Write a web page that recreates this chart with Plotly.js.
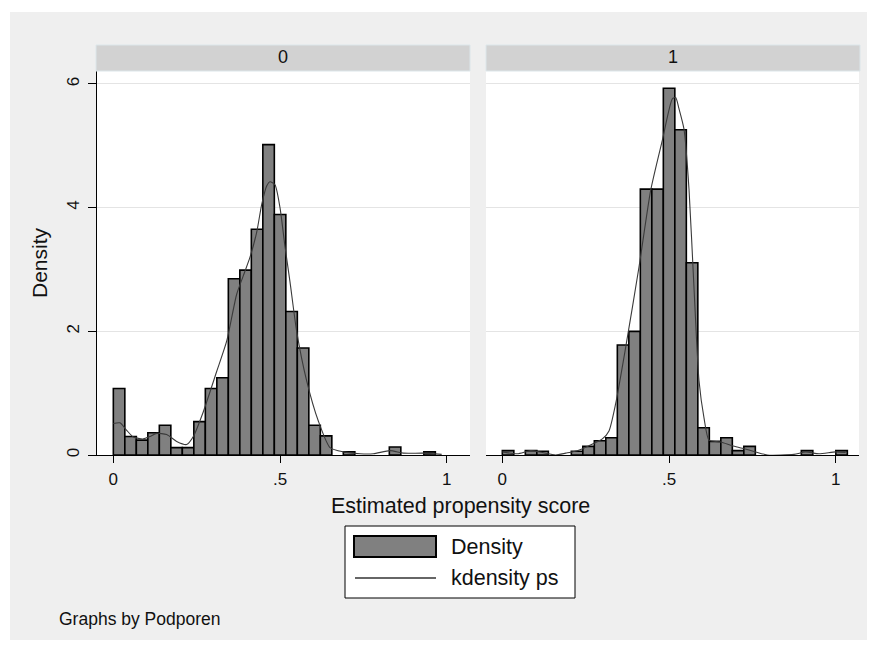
<!DOCTYPE html>
<html>
<head>
<meta charset="utf-8">
<script src="https://cdn.plot.ly/plotly-3.0.1.min.js"></script>
<style>html,body{margin:0;padding:0;background:#fff;}#chart{width:877px;height:646px;}</style>
</head>
<body>
<div id="chart"></div>
<script>
// ---- data ----
const panelLabels = ['0', '1'];
const binStart = 0;
const binWidth = 0.0345;
const density0 = [1.075,0.30,0.24,0.36,0.48,0.12,0.12,0.54,1.075,1.25,2.85,2.99,3.65,5.02,3.89,2.32,1.73,0.48,0.31,null,0.05,null,null,null,0.13,null,null,0.05,null,null];
const density1 = [0.07,null,0.07,0.06,null,null,0.06,0.14,0.23,0.28,1.78,2.0,4.3,4.3,5.93,5.26,3.11,0.44,0.22,0.28,0.07,0.14,null,null,null,null,0.07,null,null,0.07];
const kdX0 = [0,0.02,0.04,0.06,0.09,0.11,0.13,0.16,0.19,0.22,0.24,0.27,0.31,0.34,0.37,0.39,0.41,0.43,0.445,0.46,0.47,0.485,0.5,0.515,0.53,0.55,0.58,0.615,0.65,0.69,0.74,0.78,0.83,0.87,0.93,0.985];
const kdY0 = [0.51,0.52,0.40,0.29,0.26,0.30,0.35,0.33,0.22,0.17,0.30,0.70,1.35,1.84,2.6,2.9,3.2,3.6,4.05,4.35,4.42,4.37,4.0,3.37,2.8,2.0,1.2,0.55,0.12,0.05,0.02,0.02,0.07,0.03,0.03,0.01];
const kdX1 = [0,0.045,0.085,0.12,0.16,0.19,0.225,0.26,0.3,0.32,0.34,0.37,0.41,0.445,0.48,0.51,0.52,0.53,0.545,0.56,0.575,0.59,0.605,0.62,0.655,0.69,0.72,0.76,0.795,0.875,0.91,0.95,1.0,1.03];
const kdY1 = [0.05,0.02,0.07,0.04,0.0,0.03,0.07,0.15,0.26,0.39,0.83,1.74,3.04,4.28,5.09,5.76,5.78,5.6,5.27,4.3,2.7,1.2,0.6,0.24,0.21,0.15,0.11,0.05,0.0,0.01,0.05,0.02,0.05,0.04];
const xTickVals = [0, 0.5, 1];
const xTickText = ['0', '.5', '1'];
const yTickVals = [0, 2, 4, 6];
const yTickText = ['0', '2', '4', '6'];
const legendLabels = ['Density', 'kdensity ps'];
const xTitle = 'Estimated propensity score';
const yTitle = 'Density';
const note = 'Graphs by Podporen';

// ---- helpers (page pixel -> paper coords, margins are zero) ----
const W = 877, H = 646;
const px = v => v / W;
const py = v => 1 - v / H;
const FONT = 'Liberation Sans, Arial, sans-serif';
const TXT = '#111111';

const centers = density0.map((_, i) => binStart + (i + 0.5) * binWidth);

const barStyle = {color: '#808080', line: {color: '#000000', width: 1.6}};
const kdStyle = {color: '#3a3a3a', width: 1.1, shape: 'spline', smoothing: 0.6};

const traces = [
  {type: 'bar', x: centers, y: density0, width: binWidth, marker: barStyle, xaxis: 'x', yaxis: 'y', name: legendLabels[0], showlegend: false, hoverinfo: 'x+y'},
  {type: 'scatter', mode: 'lines', x: kdX0, y: kdY0, line: kdStyle, xaxis: 'x', yaxis: 'y', name: legendLabels[1], showlegend: false},
  {type: 'bar', x: centers, y: density1, width: binWidth, marker: barStyle, xaxis: 'x2', yaxis: 'y2', name: legendLabels[0], showlegend: false, hoverinfo: 'x+y'},
  {type: 'scatter', mode: 'lines', x: kdX1, y: kdY1, line: kdStyle, xaxis: 'x2', yaxis: 'y2', name: legendLabels[1], showlegend: false}
];

const yDom = [py(455), py(71)];
const xRange = [-0.049, 1.07];
const yRange = [0, 6.21];

const xAxisBase = {
  range: xRange, tickvals: xTickVals, ticktext: xTickText, ticks: 'outside', ticklen: 7, tickwidth: 1, tickcolor: '#000',
  showline: true, linecolor: '#000', linewidth: 1, showgrid: false, zeroline: false,
  tickfont: {family: FONT, size: 17, color: TXT}, ticklabelstandoff: 2, fixedrange: true
};
const yAxisBase = {
  range: yRange, domain: yDom, tickvals: yTickVals, ticktext: yTickText, showgrid: true, gridcolor: '#e4e4e4', gridwidth: 1,
  zeroline: false, fixedrange: true
};

const layout = {
  width: W, height: H, margin: {l: 0, r: 0, t: 0, b: 0},
  paper_bgcolor: '#ffffff', plot_bgcolor: '#ffffff',
  bargap: 0, barmode: 'overlay', showlegend: false,
  xaxis: Object.assign({}, xAxisBase, {domain: [px(97), px(470)], anchor: 'y'}),
  yaxis: Object.assign({}, yAxisBase, {anchor: 'x', showline: true, linecolor: '#000', linewidth: 1, ticks: 'outside', ticklen: 8, tickcolor: '#000',
    tickangle: -90, tickfont: {family: FONT, size: 17, color: TXT}, ticklabelstandoff: 2,
    title: {text: yTitle, font: {family: FONT, size: 21, color: TXT}, standoff: 10}}),
  xaxis2: Object.assign({}, xAxisBase, {domain: [px(486), px(859)], anchor: 'y2'}),
  yaxis2: Object.assign({}, yAxisBase, {anchor: 'x2', showline: false, showticklabels: false, ticks: ''}),
  shapes: [
    // graph region
    {type: 'rect', xref: 'paper', yref: 'paper', x0: px(10), x1: px(867), y0: py(640), y1: py(12), fillcolor: '#efefef', line: {width: 0}, layer: 'below'},
    // plot regions
    {type: 'rect', xref: 'paper', yref: 'paper', x0: px(97), x1: px(470), y0: py(455), y1: py(71), fillcolor: '#ffffff', line: {width: 0}, layer: 'below'},
    {type: 'rect', xref: 'paper', yref: 'paper', x0: px(486), x1: px(859), y0: py(455), y1: py(71), fillcolor: '#ffffff', line: {width: 0}, layer: 'below'},
    // strips
    {type: 'rect', xref: 'paper', yref: 'paper', x0: px(96), x1: px(470), y0: py(71), y1: py(45), fillcolor: '#d2d2d2', line: {color: '#dce6ea', width: 1}},
    {type: 'rect', xref: 'paper', yref: 'paper', x0: px(486), x1: px(860), y0: py(71), y1: py(45), fillcolor: '#d2d2d2', line: {color: '#dce6ea', width: 1}},
    // legend box
    {type: 'rect', xref: 'paper', yref: 'paper', x0: px(345), x1: px(575), y0: py(598), y1: py(526), fillcolor: '#ffffff', line: {color: '#000', width: 1}},
    {type: 'rect', xref: 'paper', yref: 'paper', x0: px(354), x1: px(436), y0: py(557), y1: py(536), fillcolor: '#808080', line: {color: '#000', width: 2}},
    {type: 'line', xref: 'paper', yref: 'paper', x0: px(355), x1: px(436), y0: py(578), y1: py(578), line: {color: '#333', width: 1.5}}
  ],
  annotations: [
    {text: panelLabels[0], xref: 'paper', yref: 'paper', x: px(283), y: py(57), showarrow: false, xanchor: 'center', yanchor: 'middle', font: {family: FONT, size: 18, color: TXT}},
    {text: panelLabels[1], xref: 'paper', yref: 'paper', x: px(673), y: py(57), showarrow: false, xanchor: 'center', yanchor: 'middle', font: {family: FONT, size: 18, color: TXT}},
    {text: xTitle, xref: 'paper', yref: 'paper', x: px(460), y: py(506), showarrow: false, xanchor: 'center', yanchor: 'middle', font: {family: FONT, size: 21.5, color: TXT}},
    {text: legendLabels[0], xref: 'paper', yref: 'paper', x: px(449), y: py(547), showarrow: false, xanchor: 'left', yanchor: 'middle', font: {family: FONT, size: 21.5, color: TXT}},
    {text: legendLabels[1], xref: 'paper', yref: 'paper', x: px(449), y: py(578), showarrow: false, xanchor: 'left', yanchor: 'middle', font: {family: FONT, size: 21.5, color: TXT}},
    {text: note, xref: 'paper', yref: 'paper', x: px(57), y: py(619), showarrow: false, xanchor: 'left', yanchor: 'middle', font: {family: FONT, size: 17.5, color: TXT}}
  ]
};

Plotly.newPlot('chart', traces, layout, {displayModeBar: false, staticPlot: true});
</script>
</body>
</html>
